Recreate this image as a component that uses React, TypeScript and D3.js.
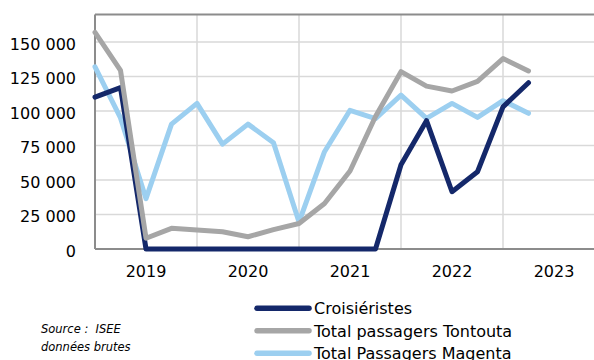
import React from "react";
import * as d3 from "d3";

const quarters = d3.range(18);
const croisieristes = [110000, 117000, 0, 0, 0, 0, 0, 0, 0, 0, 0, 0, 61000, 93000, 41500, 56000, 103000, 120500];
const tontouta = [157000, 129500, 7800, 15000, 13800, 12500, 8900, 14000, 18500, 33000, 56500, 96000, 128500, 118000, 114500, 121500, 138000, 129000];
const magenta = [132000, 95000, 36500, 90500, 105500, 76000, 90500, 77000, 19500, 70500, 100500, 94500, 111500, 94700, 105500, 95400, 107500, 98300];
const yearLabels = ["2019", "2020", "2021", "2022", "2023"];
const yTicks = [0, 25000, 50000, 75000, 100000, 125000, 150000];
const legendLabels = ["Croisiéristes", "Total passagers Tontouta", "Total Passagers Magenta"];
const sourceLines = ["Source :\u00a0\u00a0ISEE", "données brutes"];

const COLORS = { croisieristes: "#14286a", tontouta: "#a6a6a6", magenta: "#9ccff0" };
const FONT = "'DejaVu Sans', Verdana, sans-serif";

export default function App() {
  const W = 594, H = 360;
  const x = d3.scaleLinear().domain([0, 20]).range([95, 605]);
  const y = d3.scaleLinear().domain([0, 170000]).range([249, 14.4]);
  const fmt = (v: number) => d3.format(",")(v).replace(/,/g, " ");
  const line = d3.line<number>().x((_, i) => x(quarters[i])).y((d) => y(d));

  const series = [
    { key: "magenta", data: magenta, color: COLORS.magenta },
    { key: "croisieristes", data: croisieristes, color: COLORS.croisieristes },
    { key: "tontouta", data: tontouta, color: COLORS.tontouta },
  ];
  const legend = [
    { label: legendLabels[0], color: COLORS.croisieristes },
    { label: legendLabels[1], color: COLORS.tontouta },
    { label: legendLabels[2], color: COLORS.magenta },
  ];

  return (
    <svg width={W} height={H} style={{ position: "absolute", left: 0, top: 0, background: "#fff" }} fontFamily={FONT}>
      <rect x={0} y={0} width={W} height={H} fill="#fff" />
      {yTicks.filter((t) => t > 0).map((t) => (
        <line key={"h" + t} x1={x(0)} x2={W} y1={y(t)} y2={y(t)} stroke="#d9d9d9" strokeWidth={1.5} />
      ))}
      {[4, 8, 12, 16].map((q) => (
        <line key={"v" + q} x1={x(q)} x2={x(q)} y1={y(170000)} y2={y(0)} stroke="#d9d9d9" strokeWidth={1.5} />
      ))}
      <line x1={x(0)} x2={W} y1={y(170000)} y2={y(170000)} stroke="#8c8c8c" strokeWidth={2} />
      <line x1={x(0)} x2={x(0)} y1={y(170000)} y2={y(0)} stroke="#8c8c8c" strokeWidth={2} />
      <line x1={x(0)} x2={W} y1={y(0)} y2={y(0)} stroke="#8c8c8c" strokeWidth={2} />
      {series.map((s) => (
        <path key={s.key} d={line(s.data) || ""} fill="none" stroke={s.color} strokeWidth={5} strokeLinejoin="round" strokeLinecap="round" />
      ))}
      {yTicks.map((t) => (
        <text key={"yl" + t} x={76} y={y(t) + 7.5} textAnchor="end" fontSize={16} fill="#000">
          {fmt(t)}
        </text>
      ))}
      {yearLabels.map((lab, i) => (
        <text key={lab} x={x(2 + i * 4)} y={277} textAnchor="middle" fontSize={16} fill="#000">
          {lab}
        </text>
      ))}
      {legend.map((l, i) => (
        <g key={l.label} transform={`translate(0, ${308.3 + i * 22.5})`}>
          <line x1={257} x2={309} y1={0} y2={0} stroke={l.color} strokeWidth={5.5} strokeLinecap="round" />
          <text x={314} y={6} fontSize={16} fill="#000">{l.label}</text>
        </g>
      ))}
      {sourceLines.map((s, i) => (
        <text key={s} x={41} y={333 + i * 17.5} fontSize={11.5} fontStyle="italic" fill="#000">
          {s}
        </text>
      ))}
    </svg>
  );
}
